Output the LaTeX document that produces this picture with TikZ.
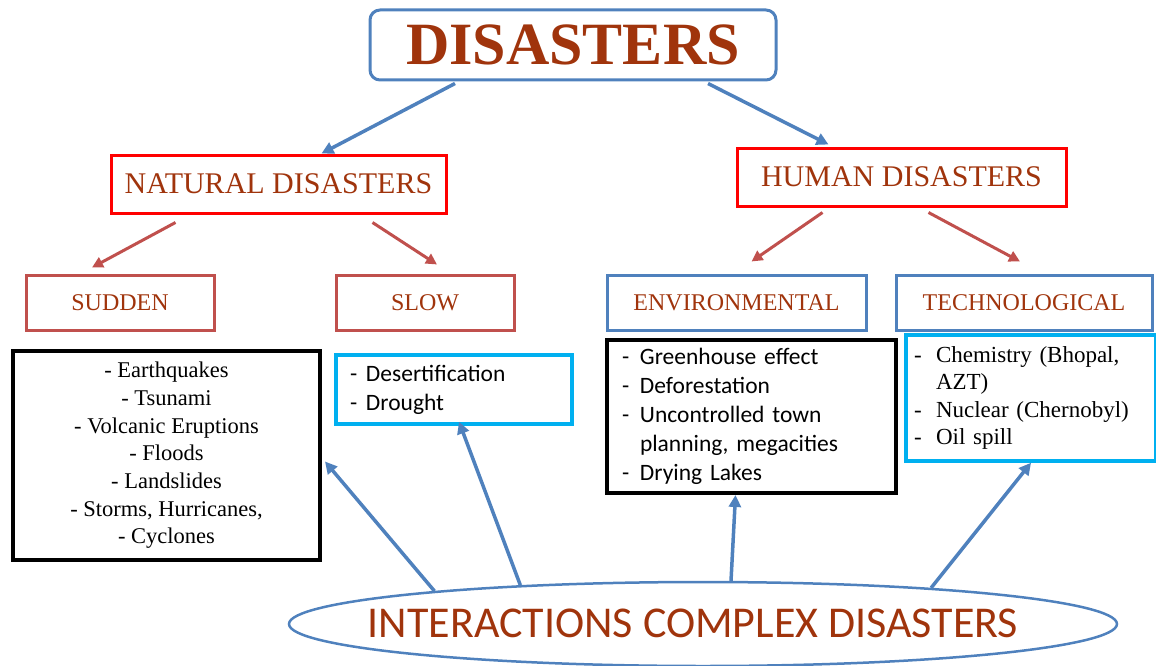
\documentclass[tikz,border=0pt]{standalone}
\usepackage{fontspec}
\setmainfont{Liberation Serif}
\newfontfamily\calib{Carlito}
\usetikzlibrary{arrows.meta,shapes.geometric,calc}
\definecolor{brn}{RGB}{160,52,12}
\definecolor{bblue}{RGB}{79,129,189}
\definecolor{rred}{RGB}{192,80,77}
\definecolor{cyanb}{RGB}{0,176,240}
\begin{document}
\begin{tikzpicture}[x=1pt,y=-1pt,
  box/.style={draw, rectangle, inner sep=0pt, line width=3pt},
  redbox/.style={box, draw=red, text=brn, font=\fontsize{30}{30}\selectfont},
  subbox/.style={box, text=brn, font=\fontsize{24}{24}\selectfont, minimum height=55pt},
  listbox/.style={draw, rectangle, line width=3.5pt, inner ysep=0pt, align=left},
  barr/.style={draw=bblue, line width=3.5pt, -{Triangle[length=12pt,width=12pt]}},
  rarr/.style={draw=rred, line width=3pt, -{Triangle[length=11pt,width=11pt]}}]
\useasboundingbox (0,0) rectangle (1156,666);
% top
\node[draw=bblue, line width=3pt, rounded corners=10pt, minimum width=406pt, minimum height=70pt, inner sep=0pt,
  text=brn, font=\fontsize{60}{60}\selectfont\bfseries] (dis) at (573,45) {DISASTERS};
\node[redbox, minimum width=335pt, minimum height=58pt] (nat) at (278.5,184) {NATURAL DISASTERS};
\node[redbox, minimum width=329pt, minimum height=58pt] (hum) at (901.5,177) {HUMAN DISASTERS};
% sub categories
\node[subbox, draw=rred, minimum width=188pt] (sud) at (120,302.5) {SUDDEN};
\node[subbox, draw=rred, minimum width=178pt] (slo) at (425,302.5) {SLOW};
\node[subbox, draw=bblue, minimum width=259pt] (env) at (736.5,302.5) {ENVIRONMENTAL};
\node[subbox, draw=bblue, minimum width=256pt] (tec) at (1024,302.5) {TECHNOLOGICAL};
% lists
\node[listbox, draw=black, line width=4pt, minimum width=307pt, minimum height=209pt, inner xsep=0pt, align=center,
  font=\fontsize{22.5}{27.7}\selectfont] (eq) at (166.5,455.5)
  {- Earthquakes\\- Tsunami\\- Volcanic Eruptions\\- Floods\\- Landslides\\- Storms, Hurricanes,\\- Cyclones};
\node[listbox, draw=cyanb, text width=208pt, inner xsep=14pt, minimum height=69pt,
  font=\calib\fontsize{23.5}{29}\selectfont] (des) at (454,389.5)
  {\makebox[16pt][l]{-}Desertification\\\makebox[16pt][l]{-}Drought};
\node[listbox, draw=black, line width=4pt, text width=259pt, inner xsep=15pt, minimum height=153pt,
  font=\calib\fontsize{23.5}{29}\selectfont] (gh) at (751.5,416.5)
  {\makebox[18pt][l]{-}Greenhouse effect\\\makebox[18pt][l]{-}Deforestation\\\makebox[18pt][l]{-}Uncontrolled town\\\makebox[18pt][l]{}planning, megacities\\\makebox[18pt][l]{-}Drying Lakes};
\node[listbox, draw=cyanb, text width=234pt, inner xsep=8pt, minimum height=126pt,
  font=\fontsize{23}{27.5}\selectfont] (chem) at (1031,398)
  {\makebox[22pt][l]{-}Chemistry (Bhopal,\\\makebox[22pt][l]{}AZT)\\\makebox[22pt][l]{-}Nuclear (Chernobyl)\\\makebox[22pt][l]{-}Oil spill};
% ellipse
\node[ellipse, draw=bblue, line width=2.5pt, minimum width=828pt, minimum height=84pt, inner sep=0pt] (ell) at (703,624) {};
\node[text=brn, font=\calib\fontsize{44}{44}\selectfont, inner sep=0pt] (elt) at (693,623) {INTERACTIONS COMPLEX DISASTERS};
% arrows
\draw[barr] ($(dis.south)+(-118,2)$) -- ($(nat.north)+(43,0)$);
\draw[barr] ($(dis.south)+(135,2)$) -- ($(hum.north)+(-73,-2)$);
\draw[rarr] ($(nat.south)+(-103,8)$) -- ($(sud.north)+(-28,-6)$);
\draw[rarr] ($(nat.south)+(94,8)$) -- ($(slo.north)+(12,-9)$);
\draw[rarr] ($(hum.south)+(-79,5)$) -- ($(env.north)+(15,-12)$);
\draw[rarr] ($(hum.south)+(27,5)$) -- ($(tec.north)+(-4,-12)$);
\draw[barr] (ell.173.4) -- ($(eq.east)+(3,6)$);
\draw[barr] (ell.168.75) -- ($(des.south)+(5,-4)$);
\draw[barr] (ell.57.2) -- ($(gh.south)+(-16,0)$);
\draw[barr] (ell.9.06) -- ($(chem.south)+(0,0)$);
\end{tikzpicture}
\end{document}
